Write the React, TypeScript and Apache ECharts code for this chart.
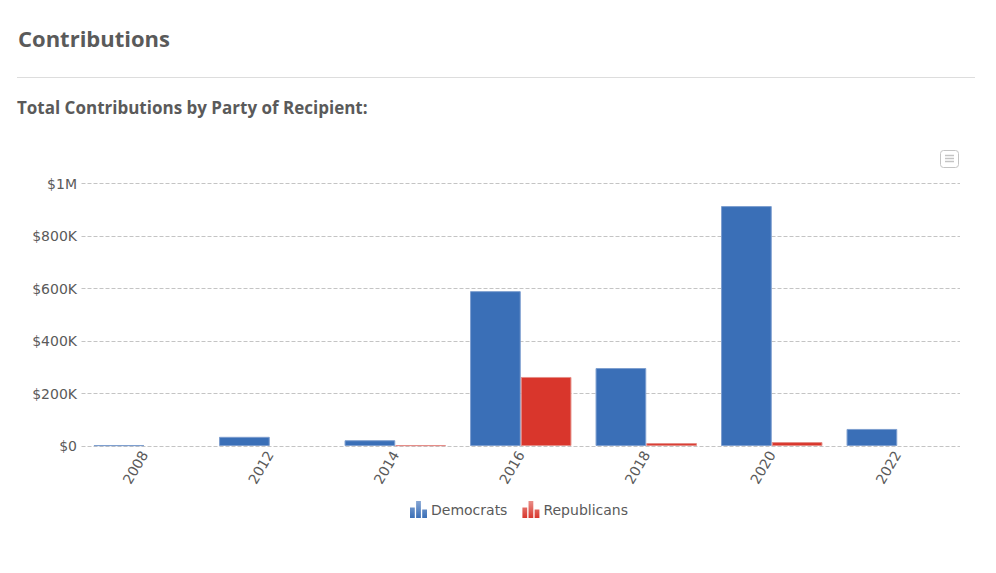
import React, { useEffect, useRef } from "react";
import * as echarts from "echarts";

const years = ["2008", "2012", "2014", "2016", "2018", "2020", "2022"];
const democrats = [3000, 35000, 22000, 590000, 297000, 914000, 65000];
const republicans = [null, null, 3000, 263000, 11000, 15000, null];
const yTicks: Record<number, string> = {
  0: "$0",
  200000: "$200K",
  400000: "$400K",
  600000: "$600K",
  800000: "$800K",
  1000000: "$1M",
};
const pageTitle = "Contributions";
const chartTitle = "Total Contributions by Party of Recipient:";

const BLUE = "#3a6fb7";
const BLUE_EDGE = "#7d9ecf";
const RED = "#d9362c";
const RED_EDGE = "#e58d87";
const TEXT = "#5a5a5a";
const legendIcon = "path://M0 6H4.5V16H0ZM5.75 0H10.25V16H5.75ZM11.5 8H16V16H11.5Z";

const fade = (top: string, bottom: string) =>
  new echarts.graphic.LinearGradient(0, 0, 0, 1, [
    { offset: 0, color: top },
    { offset: 1, color: bottom },
  ]);

export default function App() {
  const ref = useRef<HTMLDivElement>(null);
  useEffect(() => {
    document.body.style.margin = "0";
    const chart = echarts.init(ref.current!, undefined, { renderer: "svg" });
    chart.setOption({
      animation: false,
      backgroundColor: "#ffffff",
      grid: { left: 81.5, right: 36, top: 183.5, bottom: 127, containLabel: false },
      legend: {
        left: 405,
        top: 496,
        itemGap: 15,
        itemWidth: 17,
        itemHeight: 17,
        icon: legendIcon,
        textStyle: { color: TEXT, fontSize: 14, fontFamily: "DejaVu Sans", padding: [0, 0, 0, -1] },
        data: [
          { name: "Democrats", itemStyle: { color: fade("#86a6d4", BLUE), borderWidth: 0 } },
          { name: "Republicans", itemStyle: { color: fade("#e98f89", RED), borderWidth: 0 } },
        ],
      },
      xAxis: {
        type: "category",
        data: years,
        axisLine: { show: false },
        axisTick: { show: false },
        axisLabel: { rotate: 60, margin: 6, color: TEXT, fontSize: 14, fontFamily: "DejaVu Sans", interval: 0 },
      },
      yAxis: {
        type: "value",
        min: 0,
        max: 1000000,
        interval: 200000,
        axisLine: { show: false },
        axisTick: { show: false },
        axisLabel: {
          margin: 4.5,
          color: TEXT,
          fontSize: 14,
          fontFamily: "DejaVu Sans",
          formatter: (v: number) => yTicks[v] ?? "",
        },
        splitLine: { lineStyle: { color: "#c4c4c4", type: [4, 2], width: 1 } },
      },
      series: [
        {
          name: "Democrats",
          type: "bar",
          data: democrats,
          barWidth: "40.4%",
          barGap: 0,
          itemStyle: { color: BLUE, borderColor: BLUE_EDGE, borderWidth: 1 },
        },
        {
          name: "Republicans",
          type: "bar",
          data: republicans,
          barWidth: "40.4%",
          barGap: 0,
          itemStyle: { color: RED, borderColor: RED_EDGE, borderWidth: 1 },
        },
      ],
      graphic: [
        {
          type: "text",
          left: 18,
          top: 27,
          style: { text: pageTitle, fill: TEXT, font: "bold 22px 'Open Sans'" },
        },
        {
          type: "line",
          shape: { x1: 17, y1: 77.5, x2: 975, y2: 77.5 },
          style: { stroke: "#dddddd", lineWidth: 1 },
        },
        {
          type: "text",
          left: 17,
          top: 99,
          style: { text: chartTitle, fill: TEXT, font: "bold 17px 'Open Sans'" },
        },
        {
          type: "rect",
          shape: { x: 940.5, y: 150.5, width: 18, height: 17, r: 3 },
          style: { fill: "#ffffff", stroke: "#c4c4c4", lineWidth: 1 },
        },
        ...[155.5, 158.5, 161.5].map((y) => ({
          type: "line",
          shape: { x1: 945, y1: y, x2: 954, y2: y },
          style: { stroke: "#c4c4c4", lineWidth: 1.5 },
        })),
      ],
    });
    return () => chart.dispose();
  }, []);
  return <div ref={ref} style={{ position: "absolute", left: 0, top: 0, width: 996, height: 573 }} />;
}
